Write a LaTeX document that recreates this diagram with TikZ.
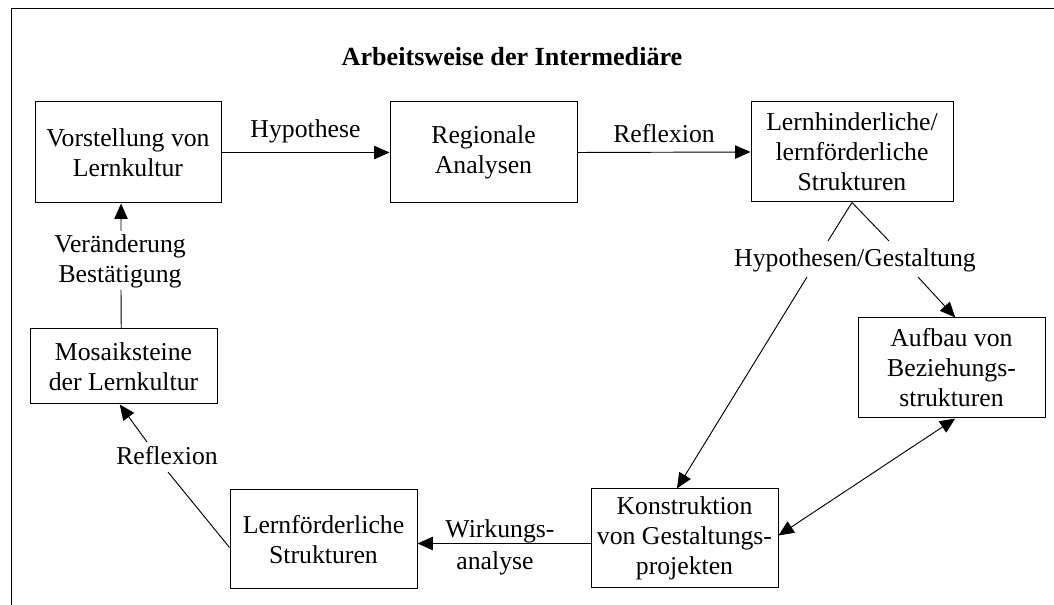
\documentclass[tikz,border=0pt]{standalone}
\usepackage{fontspec}
\setmainfont{Liberation Serif}
\usetikzlibrary{arrows.meta,calc}
\begin{document}
\begin{tikzpicture}[x=0.75pt,y=-0.75pt,
  box/.style={draw,line width=0.75pt,inner sep=0pt,align=center,font=\fontsize{19.3}{22.5}\selectfont},
  lbl/.style={inner sep=0pt,align=center,font=\fontsize{19.3}{22.5}\selectfont},
  con/.style={line width=0.7pt},
  arr/.style={con,-{Triangle[length=11.5pt,width=10pt]}},
  darr/.style={con,{Triangle[length=11.5pt,width=10pt]}-{Triangle[length=11.5pt,width=10pt]}},
]
\useasboundingbox (0,0) rectangle (1054,605);
\draw[line width=0.75pt] (11,605) -- (11,9) -- (1054,9);

\node[lbl,font=\fontsize{19.6}{23}\selectfont\bfseries] (T) at (512,57) {Arbeitsweise der Intermediäre};

\node[box,minimum width=139.5pt,minimum height=75.75pt] (V) at (128,152.5) {Vorstellung von\\Lernkultur};
\node[box,minimum width=140.25pt,minimum height=75.75pt] (R) at (483.5,152.5) {Regionale\\Analysen};
\node[box,minimum width=151.5pt,minimum height=75pt] (L) at (852,152) {Lernhinderliche/\\lernförderliche\\Strukturen};
\node[box,minimum width=140.25pt,minimum height=75pt] (A) at (951.5,368) {Aufbau von\\Beziehungs-\\strukturen};
\node[box,minimum width=140.25pt,minimum height=74.25pt] (K) at (684.5,538.5) {Konstruktion\\von Gestaltungs-\\projekten};
\node[box,minimum width=140.25pt,minimum height=74.25pt] (LF) at (323.5,539.5) {Lernförderliche\\Strukturen};
\node[box,minimum width=140.25pt,minimum height=56.25pt] (M) at (123.5,366.5) {Mosaiksteine\\der Lernkultur};

% top row
\draw[arr] (V.east) -- (R.west) node[lbl,midway,above=7pt] (hyp) {Hypothese};
\draw[arr] (R.east) -- (L.west) node[lbl,midway,above=7pt] (refl1) {Reflexion};

% Hypothesen/Gestaltung
\node[lbl,anchor=base] (HG) at (855,267) {Hypothesen/Gestaltung};
\coordinate (h1) at (828,241);
\coordinate (h2) at (889,241);
\coordinate (h3) at (807,277);
\coordinate (h4) at (918,277);
\draw[con] (L.south) -- (h1);
\draw[con] (L.south) -- (h2);
\draw[arr] (h3) -- ($(K.north west)!0.46!(K.north east)$);
\draw[arr] (h4) -- ($(A.north west)!0.52!(A.north east)$);

% double arrow
\draw[darr] ($(K.north east)!0.47!(K.south east)$) -- ($(A.south west)!0.52!(A.south east)$);

% Wirkungsanalyse
\coordinate (w0) at ($(K.north west)!0.55!(K.south west)$);
\draw[arr] (w0) -- (w0 -| LF.east);
\node[lbl,anchor=base] (W1) at (500,538) {Wirkungs-};
\node[lbl,anchor=base] (W2) at (495,570) {analyse};

% Reflexion bottom left
\node[lbl,anchor=base] (refl2) at (167,465) {Reflexion};
\coordinate (r1) at (147,442);
\coordinate (r2) at (168,472);
\draw[con] ($(LF.north west)!0.58!(LF.south west)$) -- (r2);
\draw[arr] (r1) -- ($(M.south west)!0.48!(M.south east)$);

% Veraenderung / Bestaetigung
\node[lbl,anchor=base] (VB1) at (120,253) {Veränderung};
\node[lbl,anchor=base] (VB2) at (120,283) {Bestätigung};
\coordinate (v1) at (121,290);
\coordinate (v2) at (121,231);
\draw[con] ($(M.north west)!0.488!(M.north east)$) -- (v1);
\draw[arr] (v2) -- ($(V.south west)!0.463!(V.south east)$);
\end{tikzpicture}
\end{document}
